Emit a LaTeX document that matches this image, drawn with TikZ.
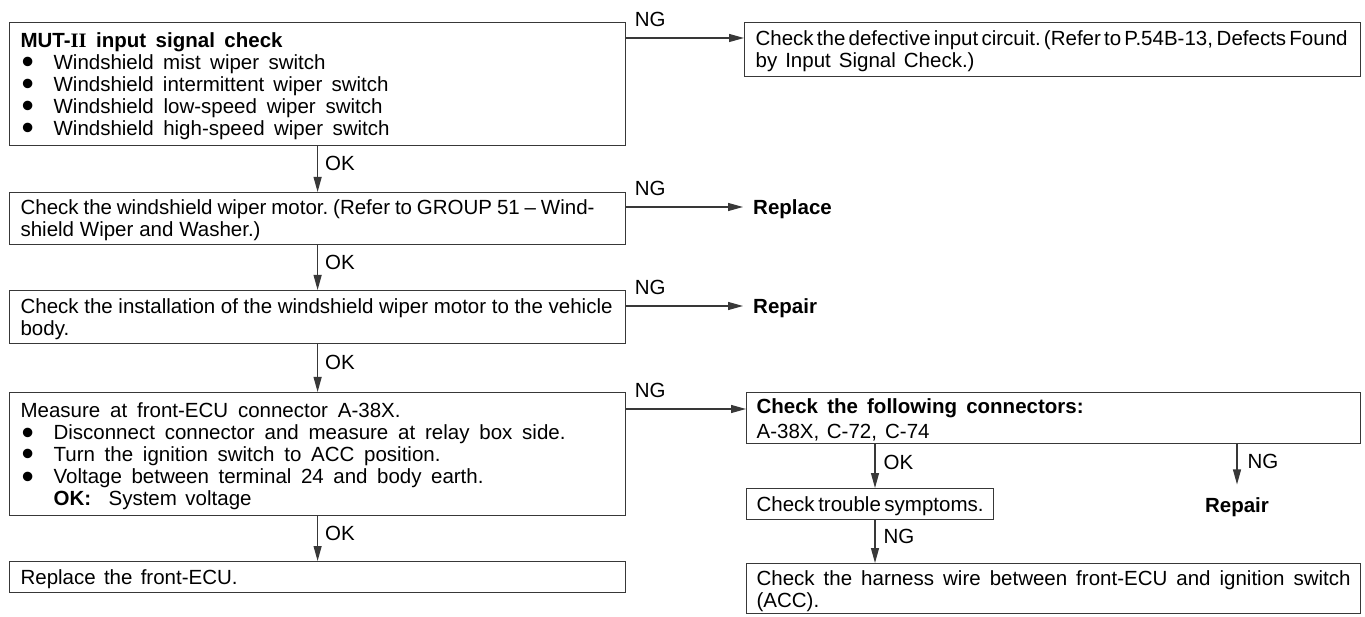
\documentclass[tikz,border=0pt]{standalone}
\usepackage{fontspec}
\setmainfont{Liberation Sans}
\newfontfamily\romfont{Liberation Serif}
\usetikzlibrary{arrows.meta}
\definecolor{linec}{gray}{0.22}
\newcommand\fitline[2]{{\spaceskip=0.278em plus 1fil minus 0.2em\relax\xspaceskip=\spaceskip\makebox[#1pt][s]{#2}}}
\newcommand\bul{\raisebox{-4.6pt}{\scalebox{1.7}{\textbullet}}}
\newcommand\bitem[2]{\makebox[33pt][l]{\hspace{1pt}\bul}\fitline{#1}{#2}}
\newcommand\mainsz{\fontsize{20.5pt}{22pt}\selectfont}
\begin{document}
\begin{tikzpicture}[x=1pt,y=-1pt,
  box/.style={draw=linec, line width=1.2pt, anchor=north west, inner xsep=11pt, inner ysep=0pt, align=left, font=\mainsz},
  lbl/.style={inner sep=0pt, text height=14.7pt, text depth=0pt, font=\mainsz},
  arr/.style={draw=linec, line width=1.2pt, -{Triangle[length=15pt,width=8pt]}}]
\useasboundingbox (0,0) rectangle (1365,617);

% left column
\node[box, text width=594pt, text height=24.8pt, text depth=98.2pt] (b1) at (9,22)
 {{\bfseries\fitline{262}{MUT-{\romfont II} input signal check}}\\
  \bitem{272}{Windshield mist wiper switch}\\
  \bitem{335}{Windshield intermittent wiper switch}\\
  \bitem{329}{Windshield low-speed wiper switch}\\
  \bitem{336}{Windshield high-speed wiper switch}};

\node[box, text width=594pt, text height=22.4pt, text depth=29.6pt] (b2) at (9,192)
 {\fitline{574}{Check the windshield wiper motor. (Refer to GROUP 51 -- Wind-}\\
  \fitline{240}{shield Wiper and Washer.)}};

\node[box, text width=594pt, text height=22.9pt, text depth=30.1pt] (b3) at (9,290)
 {\fitline{592}{Check the installation of the windshield wiper motor to the vehicle}\\
  body.};

\node[box, text width=594pt, text height=24.8pt, text depth=98.2pt] (b4) at (9,392)
 {\fitline{380}{Measure at front-ECU connector A-38X.}\\
  \bitem{512}{Disconnect connector and measure at relay box side.}\\
  \bitem{387}{Turn the ignition switch to ACC position.}\\
  \bitem{430}{Voltage between terminal 24 and body earth.}\\
  \hspace{33pt}\makebox[55pt][l]{\bfseries OK:}\fitline{143}{System voltage}};

\node[box, text width=594pt, text height=22.8pt, text depth=8.2pt] (b5) at (9,561)
 {\fitline{217}{Replace the front-ECU.}};

% right column
\node[box, text width=594pt, text height=23.4pt, text depth=30.6pt] (r1) at (744,22)
 {\fitline{592}{Check the defective input circuit. (Refer to P.54B-13, Defects Found}\\
  \fitline{219}{by Input Signal Check.)}};

\node[lbl, anchor=west, font=\mainsz\bfseries] (rep1) at (753,207) {Replace};
\node[lbl, anchor=west, font=\mainsz\bfseries] (rep2) at (753,306) {Repair};

\node[box, inner xsep=10pt, text width=594pt, text height=20.5pt, text depth=30.5pt] (r4) at (746,392)
 {{\bfseries\fitline{327}{Check the following connectors:}}\\[3pt]
  \fitline{173}{A-38X, C-72, C-74}};

\node[box, inner xsep=10pt, text width=227pt, text height=22.8pt, text depth=8.2pt] (r5) at (746,488)
 {\fitline{227}{Check trouble symptoms.}};

\node[box, inner xsep=10pt, text width=594pt, text height=21.4pt, text depth=28.6pt] (r6) at (746,563)
 {\fitline{594}{Check the harness wire between front-ECU and ignition switch}\\
  (ACC).};

\node[lbl, inner ysep=13pt, font=\mainsz\bfseries] (rep3) at (1237,505) {Repair};

\coordinate (cx) at (875,0);

% connectors
\draw[arr] (b1.south) -- node[lbl, anchor=west, pos=0.38, xshift=7pt] {OK} (b2.north);
\draw[arr] (b2.south) -- node[lbl, anchor=west, pos=0.38, xshift=7pt] {OK} (b3.north);
\draw[arr] (b3.south) -- node[lbl, anchor=west, pos=0.38, xshift=7pt] {OK} (b4.north);
\draw[arr] (b4.south) -- node[lbl, anchor=west, pos=0.38, xshift=7pt] {OK} (b5.north);

\draw[arr] ([yshift=-16pt]b1.north east) -- node[lbl, anchor=west, pos=0, xshift=8pt, yshift=19pt] {NG} ([yshift=-16pt]r1.north west);
\draw[arr] ([yshift=-15pt]b2.north east) -- node[lbl, anchor=west, pos=0, xshift=8pt, yshift=19pt] {NG} ([xshift=-10pt]rep1.west);
\draw[arr] ([yshift=-16pt]b3.north east) -- node[lbl, anchor=west, pos=0, xshift=8pt, yshift=19pt] {NG} ([xshift=-10pt]rep2.west);
\draw[arr] ([yshift=-17pt]b4.north east) -- node[lbl, anchor=west, pos=0, xshift=8pt, yshift=19pt] {NG} ([yshift=-17pt]r4.north west);

\draw[arr] (r4.south -| cx) -- node[lbl, anchor=west, pos=0.4, xshift=8pt] {OK} (r5.north -| cx);
\draw[arr] (r5.south -| cx) -- node[lbl, anchor=west, pos=0.38, xshift=8pt] {NG} (r6.north -| cx);
\draw[arr] (r4.south -| rep3.north) -- node[lbl, anchor=west, pos=0.42, xshift=10pt] {NG} (rep3.north);
\end{tikzpicture}
\end{document}
